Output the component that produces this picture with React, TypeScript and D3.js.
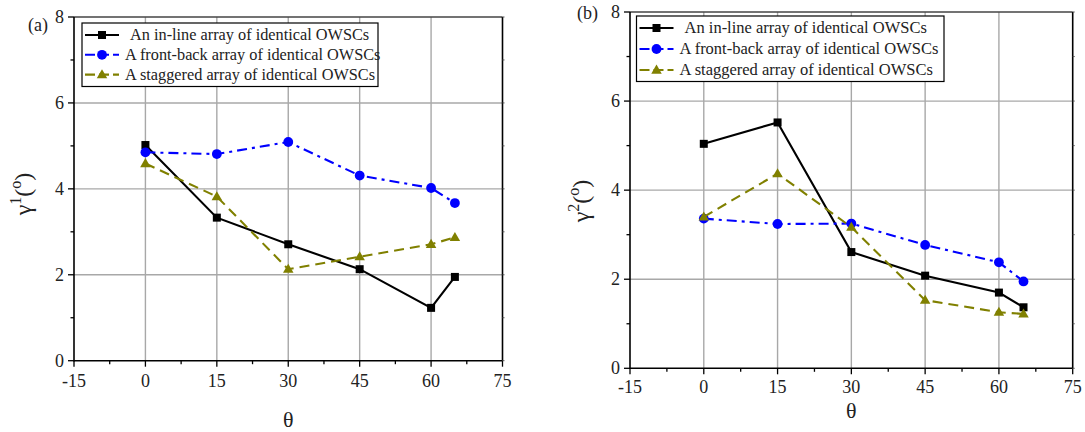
import React from "react";
import * as d3 from "d3";

const thetas = [0, 15, 30, 45, 60, 65];
const inlineA = [5.02, 3.33, 2.71, 2.13, 1.23, 1.95];
const frontBackA = [4.85, 4.81, 5.09, 4.31, 4.02, 3.67];
const staggeredA = [4.59, 3.82, 2.13, 2.42, 2.71, 2.87];
const inlineB = [5.04, 5.52, 2.61, 2.08, 1.7, 1.37];
const frontBackB = [3.36, 3.24, 3.25, 2.77, 2.38, 1.95];
const staggeredB = [3.4, 4.37, 3.17, 1.53, 1.26, 1.22];
const xTicks = [-15, 0, 15, 30, 45, 60, 75];
const yTicks = [0, 2, 4, 6, 8];
const seriesNames = [
  "An in-line array of identical OWSCs",
  "A front-back array of identical OWSCs",
  "A staggered array of identical OWSCs",
];

const FONT = '"Liberation Serif", "Times New Roman", Times, "DejaVu Serif", serif';
const COLORS = ["#000000", "#0000ff", "#808000"];
const DASHES = ["none", "10,5,3,5", "10,6"];

type Geo = {
  left: number; right: number; top: number; bottom: number;
  tag: string; tagX: number; tagY: number; sup: string;
  ylabX: number; ylabY: number; thetaY: number; xtickY: number;
  legX: number; legY: number; legW: number; legH: number; legRow: number; legFont: number;
};

function Marker({ kind, x, y, color }: { kind: number; x: number; y: number; color: string }) {
  if (kind === 0) return <rect x={x - 4} y={y - 4} width={8} height={8} fill={color} />;
  if (kind === 1) return <circle cx={x} cy={y} r={4.9} fill={color} />;
  const s = 10.5;
  const h = s * 0.866;
  return (
    <path
      d={`M${x},${y - h * 0.6} L${x + s / 2},${y + h * 0.4} L${x - s / 2},${y + h * 0.4} Z`}
      fill={color}
    />
  );
}

function Panel({ g, series }: { g: Geo; series: number[][] }) {
  const x = d3.scaleLinear().domain([-15, 75]).range([g.left, g.right]);
  const y = d3.scaleLinear().domain([0, 8]).range([g.bottom, g.top]);
  const line = d3
    .line<[number, number]>()
    .x((d) => x(d[0]))
    .y((d) => y(d[1]));
  const xMinor = d3.range(-15, 75.01, 7.5);
  const yMinor = d3.range(0, 8.01, 1);
  const tf = { fontFamily: FONT };
  return (
    <g>
      {xTicks.slice(1, -1).map((t) => (
        <line key={"gx" + t} x1={x(t)} x2={x(t)} y1={g.bottom} y2={g.top} stroke="#a8a8a8" strokeWidth={1.4} />
      ))}
      {yTicks.slice(1, -1).map((t) => (
        <line key={"gy" + t} x1={g.left} x2={g.right} y1={y(t)} y2={y(t)} stroke="#a8a8a8" strokeWidth={1.4} />
      ))}
      <line x1={g.left} x2={g.right} y1={g.top} y2={g.top} stroke="#444" strokeWidth={1.5} />
      <line x1={g.right} x2={g.right} y1={g.top} y2={g.bottom} stroke="#000" strokeWidth={1.6} />
      <line x1={g.left} x2={g.left} y1={g.top} y2={g.bottom + 0.8} stroke="#000" strokeWidth={1.6} />
      <line x1={g.left} x2={g.right} y1={g.bottom} y2={g.bottom} stroke="#000" strokeWidth={1.6} />
      {xMinor.map((t, i) => (
        <line key={"tx" + i} x1={x(t)} x2={x(t)} y1={g.bottom} y2={g.bottom + (i % 2 === 0 ? 6 : 3.5)} stroke="#000" strokeWidth={1.3} />
      ))}
      {yMinor.map((t, i) => (
        <line key={"ty" + i} x1={g.left} x2={g.left - (i % 2 === 0 ? 6 : 3.5)} y1={y(t)} y2={y(t)} stroke="#000" strokeWidth={1.3} />
      ))}
      {yMinor.map((t, i) => (
        <line key={"tr" + i} x1={g.right} x2={g.right + 2} y1={y(t)} y2={y(t)} stroke="#555" strokeWidth={1} />
      ))}
      {xTicks.map((t) => (
        <text key={"lx" + t} x={x(t)} y={g.xtickY} textAnchor="middle" style={tf} fontSize={18} fill="#222">
          {String(t)}
        </text>
      ))}
      {yTicks.map((t) => (
        <text key={"ly" + t} x={g.left - 10} y={y(t) + 6} textAnchor="end" style={tf} fontSize={18} fill="#222">
          {String(t)}
        </text>
      ))}
      <text x={g.tagX} y={g.tagY} style={tf} fontSize={18} fill="#222">{g.tag}</text>
      <text x={(x(0) + x(60)) / 2} y={g.thetaY} textAnchor="middle" style={tf} fontSize={22} fill="#222">θ</text>
      <text
        transform={`translate(${g.ylabX},${g.ylabY}) rotate(-90)`}
        textAnchor="middle"
        style={tf}
        fontSize={24}
        fill="#222"
      >
        γ<tspan dy={-10} fontSize={16}>{g.sup}</tspan>
        <tspan dy={10}>(</tspan>
        <tspan dy={-10} fontSize={16}>o</tspan>
        <tspan dy={10}>)</tspan>
      </text>
      {series.map((vals, si) => {
        const pts = thetas.map((t, i) => [t, vals[i]] as [number, number]);
        return (
          <g key={"s" + si}>
            <path d={line(pts) || ""} fill="none" stroke={COLORS[si]} strokeWidth={2.1} strokeDasharray={DASHES[si]} />
            {pts.map((p, i) => (
              <Marker key={i} kind={si} x={x(p[0])} y={y(p[1])} color={COLORS[si]} />
            ))}
          </g>
        );
      })}
      <rect x={g.legX} y={g.legY} width={g.legW} height={g.legH} fill="#fff" stroke="#000" strokeWidth={1.2} />
      {seriesNames.map((n, i) => {
        const cy = g.legY + 12 + i * g.legRow;
        return (
          <g key={"lg" + i}>
            <line x1={g.legX + 3} x2={g.legX + 37} y1={cy} y2={cy} stroke={COLORS[i]} strokeWidth={2.1} strokeDasharray={i === 0 ? "none" : "10,4"} />
            <Marker kind={i} x={g.legX + 20} y={cy} color={COLORS[i]} />
            <text x={g.legX + (i === 0 ? 48 : 43)} y={cy + 5} style={tf} fontSize={g.legFont} fill="#222">{n}</text>
          </g>
        );
      })}
    </g>
  );
}

const geoA: Geo = {
  left: 74, right: 502.5, top: 17, bottom: 360.7,
  tag: "(a)", tagX: 28, tagY: 31, sup: "1",
  ylabX: 31, ylabY: 194, thetaY: 427, xtickY: 387,
  legX: 82, legY: 23, legW: 296, legH: 63.5, legRow: 19.8, legFont: 16.3,
};
const geoB: Geo = {
  left: 630, right: 1072.7, top: 12, bottom: 368.3,
  tag: "(b)", tagX: 577, tagY: 19, sup: "2",
  ylabX: 589, ylabY: 201, thetaY: 417.5, xtickY: 393,
  legX: 636.5, legY: 16, legW: 307.5, legH: 65.5, legRow: 21, legFont: 16.5,
};

export default function App() {
  return (
    <svg width={1085} height={432} style={{ position: "absolute", left: 0, top: 0, background: "#fff" }}>
      <rect width={1085} height={432} fill="#fff" />
      <Panel g={geoA} series={[inlineA, frontBackA, staggeredA]} />
      <Panel g={geoB} series={[inlineB, frontBackB, staggeredB]} />
    </svg>
  );
}
